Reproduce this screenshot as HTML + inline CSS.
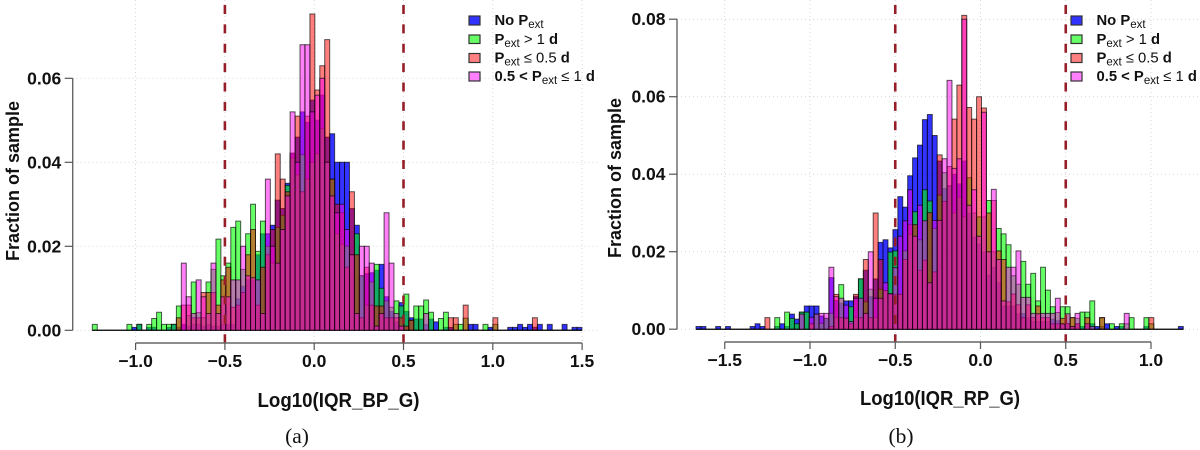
<!DOCTYPE html>
<html>
<head>
<meta charset="utf-8">
<title>Histograms of Log10(IQR_BP_G) and Log10(IQR_RP_G)</title>
<style>
html,body{margin:0;padding:0;background:#fff;width:1200px;height:450px;overflow:hidden}
svg{display:block;filter:blur(.35px)}
text{font-family:"Liberation Sans",sans-serif;fill:#111}
.tick{font-weight:700;font-size:17.5px}
.ttl{font-weight:700;font-size:18px}
.xttl{font-weight:700;font-size:20px}
.leg{font-size:14.8px;font-weight:700}
.sub{font-size:11.5px;font-weight:400}
.reg{font-weight:400}
.cap{font-family:"Liberation Serif",serif;font-size:21.5px}
</style>
</head>
<body>
<svg id="figure" width="1200" height="450" viewBox="0 0 1200 450" xmlns="http://www.w3.org/2000/svg">
  <g id="panel-a"></g>
  <g id="panel-b"></g>

  <text class="ttl" transform="translate(19,181) rotate(-90)" text-anchor="middle">Fraction of sample</text>
  <text class="xttl" x="338.5" y="407" text-anchor="middle" textLength="162" lengthAdjust="spacingAndGlyphs">Log10(IQR_BP_G)</text>
  <text class="cap" x="297" y="443" text-anchor="middle">(a)</text>

  <text class="ttl" transform="translate(621,178) rotate(-90)" text-anchor="middle">Fraction of sample</text>
  <text class="xttl" x="940" y="405" text-anchor="middle" textLength="160" lengthAdjust="spacingAndGlyphs">Log10(IQR_RP_G)</text>
  <text class="cap" x="901" y="443" text-anchor="middle">(b)</text>

  <g>
    <g>
      <rect x="469" y="16" width="11" height="9" fill="rgb(51,51,255)" stroke="#333" stroke-width="1.2"/>
      <text class="leg" x="494.5" y="25">No P<tspan class="sub" dy="3">ext</tspan></text>
    </g>
    <g>
      <rect x="469" y="35" width="11" height="8.5" fill="rgb(102,255,102)" stroke="#333" stroke-width="1.2"/>
      <text class="leg" x="494.5" y="44">P<tspan class="sub" dy="3">ext</tspan><tspan class="reg" dy="-3"> &gt; 1 </tspan>d</text>
    </g>
    <g>
      <rect x="469" y="53.5" width="11" height="9" fill="rgb(255,128,128)" stroke="#333" stroke-width="1.2"/>
      <text class="leg" x="494.5" y="62.5">P<tspan class="sub" dy="3">ext</tspan><tspan class="reg" dy="-3"> ≤ 0.5 </tspan>d</text>
    </g>
    <g>
      <rect x="469" y="72" width="11" height="9" fill="rgb(255,128,255)" stroke="#333" stroke-width="1.2"/>
      <text class="leg" x="494.5" y="81">0.5 &lt; P<tspan class="sub" dy="3">ext</tspan><tspan class="reg" dy="-3"> ≤ 1 </tspan>d</text>
    </g>
  </g>

  <g>
    <g>
      <rect x="1071" y="16" width="11" height="9" fill="rgb(51,51,255)" stroke="#333" stroke-width="1.2"/>
      <text class="leg" x="1096.5" y="25">No P<tspan class="sub" dy="3">ext</tspan></text>
    </g>
    <g>
      <rect x="1071" y="35" width="11" height="8.5" fill="rgb(102,255,102)" stroke="#333" stroke-width="1.2"/>
      <text class="leg" x="1096.5" y="44">P<tspan class="sub" dy="3">ext</tspan><tspan class="reg" dy="-3"> &gt; 1 </tspan>d</text>
    </g>
    <g>
      <rect x="1071" y="53.5" width="11" height="9" fill="rgb(255,128,128)" stroke="#333" stroke-width="1.2"/>
      <text class="leg" x="1096.5" y="62.5">P<tspan class="sub" dy="3">ext</tspan><tspan class="reg" dy="-3"> ≤ 0.5 </tspan>d</text>
    </g>
    <g>
      <rect x="1071" y="72" width="11" height="9" fill="rgb(255,128,255)" stroke="#333" stroke-width="1.2"/>
      <text class="leg" x="1096.5" y="81">0.5 &lt; P<tspan class="sub" dy="3">ext</tspan><tspan class="reg" dy="-3"> ≤ 1 </tspan>d</text>
    </g>
  </g>
</svg>

<script>
// Series values are per-mille of the sample, one per histogram bin (99 bins).
var leftBinStart = -1.2424;
var leftBinWidth = 0.02769;
var leftNoPext = [
0,0,0,0,0,0,0,0,.7,1.4,
0,.7,.7,0,0,.7,1.4,.7,1.4,1,
1.4,1.4,1,1.4,1,1,1.4,1.4,1.4,7.5,
10.5,12,12,18,23,23,25,31,29,35,
42,46,52,49.5,54.8,50,56,46,46.8,40,
40,40,29,25,13,13.5,13.7,14.3,15.7,8,
4.5,2,6.6,4.5,3,2.7,2.7,1.4,2.7,2,
0,.7,.7,0,0,0,1.4,1.4,0,0,
.7,0,0,0,.7,.7,1.4,.7,1.4,.7,
1.4,0,1.4,0,0,1.4,0,.7,.7];
var leftLong = [
1.4,0,0,0,0,0,0,1.4,0,1.4,
0,1.4,2.8,4.3,1.4,1.4,1.4,5.8,0,3.5,
11.5,4.2,3,11.5,14.5,21.7,13,16,24.5,26,
14.5,23,30,18.8,26,20,16,24.5,27.4,34.5,
41,37,41.8,36,40,42,48,40,36,23,
20.5,20,18,23,13,6,11.5,15.7,10,7,
5.5,7,5.8,8.6,2.4,5.8,5.8,7.2,4.3,0,
2.8,4.3,0,1.4,1.4,2.9,0,0,0,1.4,
0,1.4,0,0,0,0,0,0,0,0,
0,0,0,0,0,0,0,0,0];
var leftShort = [
0,0,0,0,0,0,0,0,0,0,
0,0,0,0,0,0,0,3,6,6,
3,3,9,9,9,6,12,15,5.5,6,
9,18,24,6,15,18,24,42,36,33,
42.2,51,33,51,75.3,57.2,63,69.2,36,30,
28,15,33,18,3,15,6,5.8,5.8,3,
3,3,3,1,2.4,0,0,0,0,0,
0,0,3,3,0,6,0,0,0,0,
0,3,0,0,0,0,0,0,0,3,
0,0,0,0,0,0,0,0,0];
var leftMid = [
0,0,0,0,0,0,0,0,0,0,
0,0,0,0,0,0,0,0,16,8,
4,12,8,4,16,4,8,8,12,12,
20,13,12.5,12,4,36,20,16,24,32,
52,40,68,68,52,56,60,40,32,28,
30,24,18,4,20,20,16,1,4,28,
16,4,1,0,0,0,0,4,0,0,
0,0,0,0,0,0,0,0,0,0,
0,0,0,0,0,0,0,0,0,0,
0,0,0,0,0,0,0,0,0];

var rightBinStart = -1.6686;
var rightBinWidth = 0.02887;
var rightNoPext = [
.7,.7,0,0,.7,0,.7,0,0,0,
0,.7,1.4,.7,0,0,.7,1.4,.7,3.9,
2.6,4.4,6,6,6,3.4,2.8,13.3,7.4,6.7,
7.3,7.3,8.5,13,15.2,8.4,13,22.4,23.1,21,
25.7,34.2,31.5,39.6,44.2,47.5,54.1,55.4,50,43.4,
36.3,37,40,37.5,43.4,30,23.8,22,20,14,
16,12,6,6,6,4,4.1,3,2,2,
2,2,2.6,2.2,1.4,1.5,.7,1.4,.7,1,
1.4,.7,.7,1.4,0,.7,.7,0,0,0,
0,.7,0,0,0,0,0,0,.7];
var rightLong = [
0,0,0,0,0,0,0,0,0,0,
0,0,0,0,0,0,3,0,4.4,2.8,
1.4,4.4,4.4,1.4,3.9,1.5,2.8,4.1,3,11.5,
3,5.8,3,13,7.1,10.3,3,10.3,10,19.9,
20.2,9,20.2,24.5,30.3,23.1,36,33.1,26,34.6,
40.4,37,30,34,29,39.1,30,29,29,33.2,
20,26,24.6,21.8,13.8,11.6,17.5,11.6,14.4,7.3,
16,10.1,5.8,4.3,5.8,5.8,3,2.8,4.4,4.4,
7.3,0,3,0,1.4,0,1.4,1.4,3,0,
0,3,1.4,0,0,0,0,0,0];
var rightShort = [
0,0,0,0,0,0,0,0,0,0,
0,0,0,0,3,0,0,0,0,0,
0,0,0,1.4,0,0,0,.7,9,3,
2.8,1.4,9,3,18,3,30,18,10,9,
9,9,18,27,27,15.2,17.8,30.1,14.8,45,
33,42,54.2,63,81,57.2,54.2,60,57.1,30,
33.2,20.2,18,7.1,9.1,6.3,3,6.3,3,6,
3,3,1.4,1.4,2.8,1.4,3,1.4,0,3,
0,0,3,0,0,0,0,0,0,0,
0,0,3,0,0,0,0,0,0];
var rightMid = [
0,0,0,0,0,0,0,0,0,0,
0,0,0,0,0,0,0,0,0,0,
0,3.9,0,3.1,3.9,4.1,4.1,16,8.4,8,
6.2,2,8,8,4.1,20,8,8,12,9.2,
15.9,24,28,36,24,32,28,12,28.1,28.1,
44,64.2,41.5,44,80,32,36,24,56,20,
36.1,18,7.3,16,16,20.2,8.2,8.2,4.1,4,
4.1,4.1,4.1,8,1.4,4,.7,4.1,0,1.4,
.7,0,0,0,0,0,0,4.1,0,0,
0,0,0,0,0,0,0,0,0];

var leftYTicks = [0, 0.02, 0.04, 0.06];
var leftYLabels = ['0.00', '0.02', '0.04', '0.06'];
var leftXTicks = [-1, -0.5, 0, 0.5, 1, 1.5];
var leftXLabels = ['−1.0', '−0.5', '0.0', '0.5', '1.0', '1.5'];
var rightYTicks = [0, 0.02, 0.04, 0.06, 0.08];
var rightYLabels = ['0.00', '0.02', '0.04', '0.06', '0.08'];
var rightXTicks = [-1.5, -1, -0.5, 0, 0.5, 1];
var rightXLabels = ['−1.5', '−1.0', '−0.5', '0.0', '0.5', '1.0'];
var cutLines = [-0.5, 0.5];

var NS = 'http://www.w3.org/2000/svg';
function mk(parent, tag, attrs, txt) {
  var el = document.createElementNS(NS, tag);
  for (var k in attrs) el.setAttribute(k, attrs[k]);
  if (txt !== undefined) el.textContent = txt;
  parent.appendChild(el);
  return el;
}

function drawPanel(g, p) {
  var i, el, x, y;
  // grid
  for (i = 0; i < p.yTicks.length; i++) {
    y = p.y(p.yTicks[i]);
    el = mk(g, 'line', {x1: p.axisX, x2: p.gridRight, y1: y, y2: y, stroke: '#d4d4d4', 'stroke-width': 1, 'stroke-dasharray': '1 3'});
    
    
  }
  for (i = 0; i < p.xTicks.length; i++) {
    x = p.x(p.xTicks[i]);
    el = mk(g, 'line', {x1: x, x2: x, y1: 0, y2: p.axisY, stroke: '#d4d4d4', 'stroke-width': 1, 'stroke-dasharray': '1 3'});
    
    
  }
  // bars
  for (var s = 0; s < p.series.length; s++) {
    var ser = p.series[s];
    var sg = mk(g, 'g', {});
    
    
    for (i = 0; i < ser.values.length; i++) {
      var x0 = p.x(p.binStart + i * p.binWidth);
      var x1 = p.x(p.binStart + (i + 1) * p.binWidth);
      var yb = p.y(0);
      var yt = p.y(ser.values[i] / 1000);
      el = mk(sg, 'path', {d: 'M' + x0 + ' ' + yb + 'V' + yt + 'H' + x1 + 'V' + yb + 'Z', fill: ser.color, 'fill-opacity': ser.alpha, stroke: '#000', 'stroke-opacity': 0.65, 'stroke-width': 1});
      
      
    }
  }
  // dashed cut lines
  for (i = 0; i < cutLines.length; i++) {
    x = p.x(cutLines[i]);
    el = mk(g, 'line', {x1: x, x2: x, y1: 5, y2: p.axisY, stroke: 'rgb(150,30,40)', 'stroke-width': 2.6, 'stroke-dasharray': '9 10.37'});
    
    
  }
  // y axis
  var yTop = p.y(p.yTicks[p.yTicks.length - 1]);
  el = mk(g, 'line', {x1: p.axisX, x2: p.axisX, y1: p.y(0), y2: yTop, stroke: '#666', 'stroke-width': 1.4});
  
  
  for (i = 0; i < p.yTicks.length; i++) {
    y = p.y(p.yTicks[i]);
    el = mk(g, 'line', {x1: p.axisX - 8, x2: p.axisX, y1: y, y2: y, stroke: '#555', 'stroke-width': 1.2});
    
    
    el = mk(g, 'text', {'class': 'tick', x: p.axisX - 11.5, y: y + 6, 'text-anchor': 'end'}, p.yLabels[i]);
    
    
  }
  // x axis
  el = mk(g, 'line', {x1: p.x(p.xTicks[0]), x2: p.x(p.xTicks[p.xTicks.length - 1]), y1: p.axisY, y2: p.axisY, stroke: '#666', 'stroke-width': 1.4});
  
  
  for (i = 0; i < p.xTicks.length; i++) {
    x = p.x(p.xTicks[i]);
    el = mk(g, 'line', {x1: x, x2: x, y1: p.axisY, y2: p.axisY + 7, stroke: '#555', 'stroke-width': 1.2});
    
    
    el = mk(g, 'text', {'class': 'tick', x: x, y: p.axisY + 24, 'text-anchor': 'middle'}, p.xLabels[i]);
    
    
  }
}

function leftX(v) { return 314.2 + 178.6 * v; }
function leftY(v) { return 330.3 - 4200 * v; }
function rightX(v) { return 980.5 + 170.5 * v; }
function rightY(v) { return 329.2 - 3875 * v; }

drawPanel(document.getElementById('panel-a'), {
  x: leftX, y: leftY, axisX: 72.7, axisY: 343, gridRight: 598,
  binStart: leftBinStart, binWidth: leftBinWidth,
  yTicks: leftYTicks, yLabels: leftYLabels, xTicks: leftXTicks, xLabels: leftXLabels,
  series: [
    {name: 'no-pext', values: leftNoPext, color: 'rgb(0,0,255)', alpha: 0.8},
    {name: 'pext-gt-1', values: leftLong, color: 'rgb(0,255,0)', alpha: 0.6},
    {name: 'pext-le-05', values: leftShort, color: 'rgb(255,0,0)', alpha: 0.5},
    {name: 'pext-05-to-1', values: leftMid, color: 'rgb(255,0,240)', alpha: 0.5}
  ]
});
drawPanel(document.getElementById('panel-b'), {
  x: rightX, y: rightY, axisX: 677, axisY: 342, gridRight: 1200,
  binStart: rightBinStart, binWidth: rightBinWidth,
  yTicks: rightYTicks, yLabels: rightYLabels, xTicks: rightXTicks, xLabels: rightXLabels,
  series: [
    {name: 'no-pext', values: rightNoPext, color: 'rgb(0,0,255)', alpha: 0.8},
    {name: 'pext-gt-1', values: rightLong, color: 'rgb(0,255,0)', alpha: 0.6},
    {name: 'pext-le-05', values: rightShort, color: 'rgb(255,0,0)', alpha: 0.5},
    {name: 'pext-05-to-1', values: rightMid, color: 'rgb(255,0,240)', alpha: 0.5}
  ]
});
</script>
</body>
</html>
